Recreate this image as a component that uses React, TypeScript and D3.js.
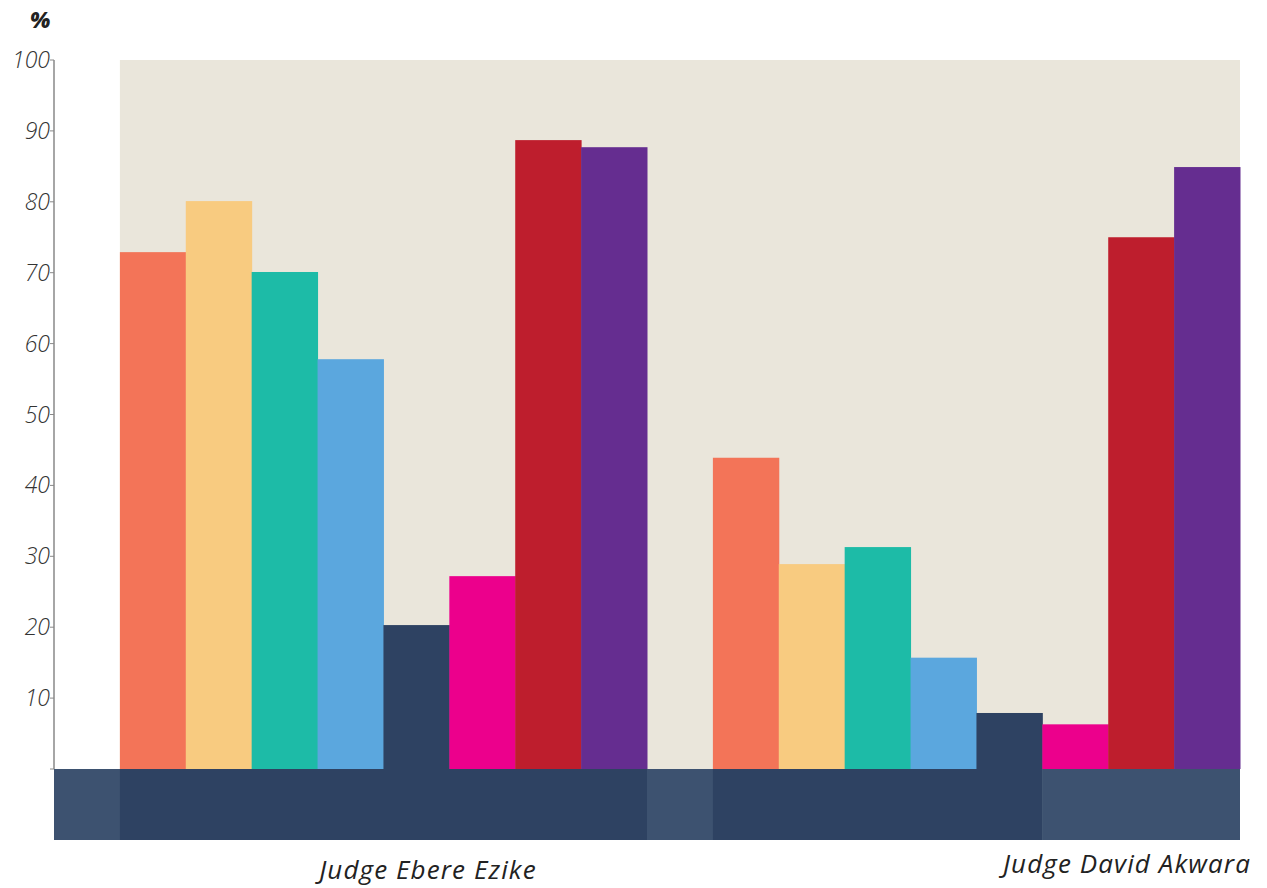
import React from "react";
import * as d3 from "d3";

const judges = ["Judge Ebere Ezike", "Judge David Akwara"];
const seriesNames = ["S1", "S2", "S3", "S4", "S5", "S6", "S7", "S8"];
const seriesColors = ["#f37458", "#f8cb80", "#1dbba7", "#5ba7de", "#2e4262", "#ec008c", "#be1e2d", "#652d90"];
const ezikeValues = [72.9, 80.1, 70.1, 57.8, 20.3, 27.2, 88.7, 87.7];
const akwaraValues = [43.9, 28.9, 31.3, 15.7, 7.9, 6.3, 75.0, 84.9];
const yTicks = [10, 20, 30, 40, 50, 60, 70, 80, 90, 100];
// shading of the base strip per slot (true = lighter)
const stripLight = [true, false, false, false, false, false, false, false, false, true, false, false, false, false, false, true, true, true];

const W = 1267;
const H = 888;
const left = 54;
const right = 1240;
const top = 60;
const zeroY = 769;
const stripBottom = 840;

export default function App() {
  const slots = d3.range(18).map(String);
  const x = d3.scaleBand<string>().domain(slots).range([left, right]).padding(0);
  const y = d3.scaleLinear().domain([0, 100]).range([zeroY, top]);
  const bw = x.bandwidth();

  const groups = [ezikeValues, akwaraValues];
  const bars: { x: number; y: number; h: number; c: string; k: string }[] = [];
  groups.forEach((vals, gi) => {
    vals.forEach((v, i) => {
      const slot = String(1 + gi * 9 + i);
      bars.push({ x: x(slot)!, y: y(v), h: y(0) - y(v), c: seriesColors[i], k: `${gi}-${seriesNames[i]}` });
    });
  });

  // merge strip slots into runs of equal shade
  const runs: { x0: number; x1: number; light: boolean }[] = [];
  slots.forEach((s, i) => {
    const x0 = x(s)!;
    const x1 = x0 + bw;
    const last = runs[runs.length - 1];
    if (last && last.light === stripLight[i]) last.x1 = x1;
    else runs.push({ x0, x1, light: stripLight[i] });
  });

  const bgX0 = x("1")!;
  const font = "'Open Sans', 'Noto Sans', sans-serif";

  return (
    <svg width={W} height={H} style={{ position: "absolute", left: 0, top: 0 }}>
      <rect x={bgX0} y={y(100)} width={right - bgX0} height={y(0) - y(100)} fill="#eae6db" />
      {bars.map((b) => (
        <rect key={b.k} x={b.x} y={b.y} width={bw + 0.5} height={b.h} fill={b.c} />
      ))}
      {runs.map((r, i) => (
        <rect key={"st" + i} x={r.x0} y={zeroY} width={r.x1 - r.x0 + (i < runs.length - 1 ? 0.5 : 0)}
          height={stripBottom - zeroY} fill={r.light ? "#3d5270" : "#2e4262"} />
      ))}
      <line x1={left} x2={left} y1={y(100)} y2={y(0)} stroke="#888" strokeWidth={1.5} />
      {[0, ...yTicks].map((t) => (
        <g key={t} transform={`translate(0,${y(t)})`}>
          <line x1={left - 4} x2={left} stroke="#888" strokeWidth={1} />
          {t > 0 && (
            <text x={left - 4} dy="0.35em" textAnchor="end" fontFamily={font} fontStyle="italic"
              fontWeight={300} fontSize={23} fill="#333">{t}</text>
          )}
        </g>
      ))}
      <text x={40} y={28} textAnchor="middle" fontFamily={font} fontStyle="italic" fontWeight={800}
        fontSize={22} fill="#222">%</text>
      <text x={428} y={879} textAnchor="middle" fontFamily={font}
        fontStyle="italic" fontWeight={500} fontSize={26} letterSpacing={1.1} fill="#222">{judges[0]}</text>
      <text x={1127} y={873} textAnchor="middle" fontFamily={font}
        fontStyle="italic" fontWeight={500} fontSize={26} letterSpacing={1.1} fill="#222">{judges[1]}</text>
    </svg>
  );
}
